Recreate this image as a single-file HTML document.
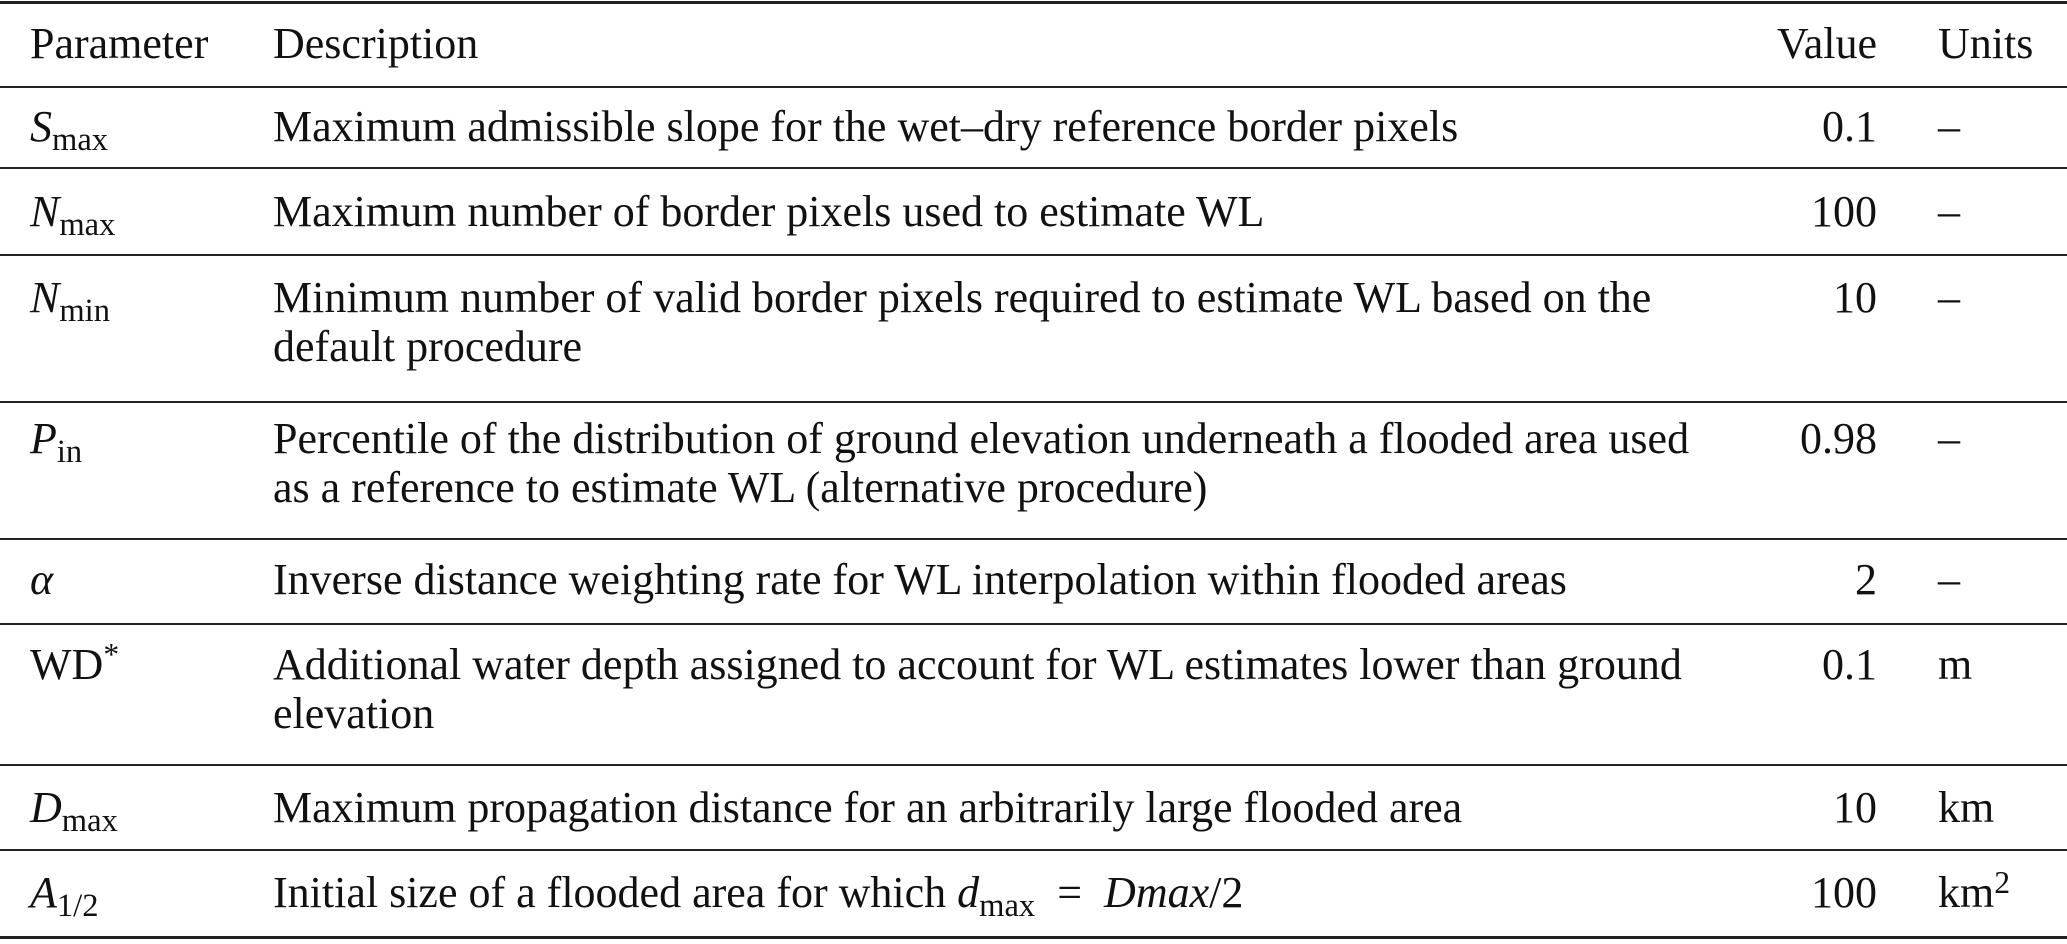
<!DOCTYPE html>
<html><head><meta charset="utf-8"><style>
html,body{margin:0;padding:0;background:#fff;}
body{width:2067px;height:941px;position:relative;overflow:hidden;}
.rule{position:absolute;left:0;width:2067px;background:#222;}
.inner{position:absolute;left:0;top:3px;width:2067px;height:941px;
font-family:"Liberation Serif",serif;font-size:44px;color:#111;}
.t{position:absolute;line-height:44px;white-space:nowrap;}
.p{left:30px}.d{left:273px}.v{left:0;width:1877px;text-align:right}.u{left:1938px}
sub{font-size:0.74em;vertical-align:-0.28em;line-height:0;font-style:normal}
sup{font-size:0.72em;vertical-align:0.45em;line-height:0}
i{font-style:italic}
</style></head><body>
<div class="rule" style="top:1px;height:3px"></div>
<div class="rule" style="top:86px;height:2px"></div>
<div class="rule" style="top:167px;height:2px"></div>
<div class="rule" style="top:254px;height:2px"></div>
<div class="rule" style="top:401px;height:2px"></div>
<div class="rule" style="top:538px;height:2px"></div>
<div class="rule" style="top:623px;height:2px"></div>
<div class="rule" style="top:764px;height:2px"></div>
<div class="rule" style="top:849px;height:2px"></div>
<div class="rule" style="top:936px;height:3px"></div>
<div class="inner">
<div class="t p" style="top:19px">Parameter</div>
<div class="t d" style="top:19px">Description</div>
<div class="t v" style="top:19px">Value</div>
<div class="t u" style="top:19px">Units</div>

<div class="t p" style="top:102px"><i>S</i><sub>max</sub></div>
<div class="t d" style="top:102px">Maximum admissible slope for the wet–dry reference border pixels</div>
<div class="t v" style="top:102px">0.1</div>
<div class="t u" style="top:102px">–</div>

<div class="t p" style="top:187px"><i>N</i><sub>max</sub></div>
<div class="t d" style="top:187px">Maximum number of border pixels used to estimate WL</div>
<div class="t v" style="top:187px">100</div>
<div class="t u" style="top:187px">–</div>

<div class="t p" style="top:273px"><i>N</i><sub>min</sub></div>
<div class="t d" style="top:273px">Minimum number of valid border pixels required to estimate WL based on the</div>
<div class="t d" style="top:322px">default procedure</div>
<div class="t v" style="top:273px">10</div>
<div class="t u" style="top:273px">–</div>

<div class="t p" style="top:414px"><i>P</i><sub>in</sub></div>
<div class="t d" style="top:414px">Percentile of the distribution of ground elevation underneath a flooded area used</div>
<div class="t d" style="top:463px">as a reference to estimate WL (alternative procedure)</div>
<div class="t v" style="top:414px">0.98</div>
<div class="t u" style="top:414px">–</div>

<div class="t p" style="top:555px"><i>α</i></div>
<div class="t d" style="top:555px">Inverse distance weighting rate for WL interpolation within flooded areas</div>
<div class="t v" style="top:555px">2</div>
<div class="t u" style="top:555px">–</div>

<div class="t p" style="top:640px">WD<sup>*</sup></div>
<div class="t d" style="top:640px">Additional water depth assigned to account for WL estimates lower than ground</div>
<div class="t d" style="top:689px">elevation</div>
<div class="t v" style="top:640px">0.1</div>
<div class="t u" style="top:640px">m</div>

<div class="t p" style="top:783px"><i>D</i><sub>max</sub></div>
<div class="t d" style="top:783px">Maximum propagation distance for an arbitrarily large flooded area</div>
<div class="t v" style="top:783px">10</div>
<div class="t u" style="top:783px">km</div>

<div class="t p" style="top:868px"><i>A</i><sub>1/2</sub></div>
<div class="t d" style="top:868px">Initial size of a flooded area for which <i>d</i><sub>max</sub> &nbsp;=&nbsp; <i>D</i><i>max</i>/2</div>
<div class="t v" style="top:868px">100</div>
<div class="t u" style="top:868px">km<sup>2</sup></div>
</div>
</body></html>
